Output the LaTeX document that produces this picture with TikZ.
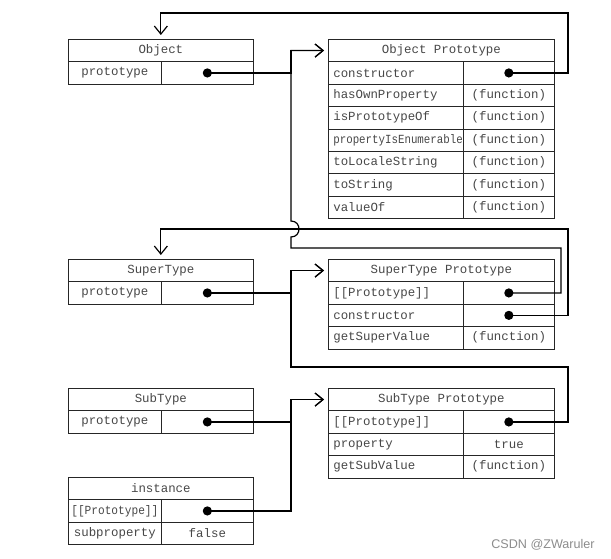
\documentclass[tikz,border=0pt]{standalone}
\usepackage{fontspec}
\newfontfamily\monofam{Liberation Mono}
\newfontfamily\sansfam{Liberation Sans}
\newcommand\cellfont{\monofam\fontsize{12.4}{14}\selectfont}
\usetikzlibrary{arrows.meta}

\tikzset{
    cell/.style={draw=black!85, line width=0.7pt, minimum height=22.4pt, inner sep=0pt,
        anchor=north west, text=black!72, font=\cellfont},
    lhead/.style={cell, minimum width=185pt},
    lkey/.style={cell, minimum width=93pt},
    lval/.style={cell, minimum width=92pt},
    rhead/.style={cell, minimum width=226pt},
    rkey/.style={cell, minimum width=135pt, text width=125pt, inner xsep=5pt, align=left},
    rval/.style={cell, minimum width=91pt},
    link/.style={line width=1.2pt, ->, shorten >=4pt},
}

\begin{document}
\begin{tikzpicture}[x=1pt,y=-1pt,>={Straight Barb[length=8pt,width=13pt]}]
    \useasboundingbox (0,0) rectangle (611,559);
    %Object
    \node[lhead] (objH) at (68,39) {Object};
    \node[lkey] (objPk) at (68,61.4) {prototype};
    \node[lval] (objPv) at (161,61.4) {};
    %Object Prototype
    \node[rhead] (opH) at (328,39) {Object Prototype};
    \node[rkey] (opCk) at (328,61.4) {constructor};
    \node[rval] (opCv) at (463,61.4) {};
    \node[rkey] (opHk) at (328,83.8) {hasOwnProperty};
    \node[rval] (opHv) at (463,83.8) {(function)};
    \node[rkey] (opIk) at (328,106.2) {isPrototypeOf};
    \node[rval] (opIv) at (463,106.2) {(function)};
    \node[rkey] (opEk) at (328,128.6) {\scalebox{0.87}[1]{propertyIsEnumerable}};
    \node[rval] (opEv) at (463,128.6) {(function)};
    \node[rkey] (opLk) at (328,151) {toLocaleString};
    \node[rval] (opLv) at (463,151) {(function)};
    \node[rkey] (opSk) at (328,173.4) {toString};
    \node[rval] (opSv) at (463,173.4) {(function)};
    \node[rkey] (opVk) at (328,195.8) {valueOf};
    \node[rval] (opVv) at (463,195.8) {(function)};
    %SuperType
    \node[lhead] (supH) at (68,259) {SuperType};
    \node[lkey] (supPk) at (68,281.4) {prototype};
    \node[lval] (supPv) at (161,281.4) {};
    %SuperType Prototype
    \node[rhead] (sopH) at (328,259) {SuperType Prototype};
    \node[rkey] (sopPk) at (328,281.4) {[[Prototype]]};
    \node[rval] (sopPv) at (463,281.4) {};
    \node[rkey] (sopCk) at (328,303.8) {constructor};
    \node[rval] (sopCv) at (463,303.8) {};
    \node[rkey] (sopGk) at (328,326.2) {getSuperValue};
    \node[rval] (sopGv) at (463,326.2) {(function)};
    %SubType
    \node[lhead] (subH) at (68,388) {SubType};
    \node[lkey] (subPk) at (68,410.4) {prototype};
    \node[lval] (subPv) at (161,410.4) {};
    %SubType Prototype
    \node[rhead] (bopH) at (328,388) {SubType Prototype};
    \node[rkey] (bopPk) at (328,410.4) {[[Prototype]]};
    \node[rval] (bopPv) at (463,410.4) {};
    \node[rkey] (bopRk) at (328,432.8) {property};
    \node[rval] (bopRv) at (463,432.8) {true};
    \node[rkey] (bopGk) at (328,455.2) {getSubValue};
    \node[rval] (bopGv) at (463,455.2) {(function)};
    %instance
    \node[lhead] (insH) at (68,477) {instance};
    \node[lkey] (insPk) at (68,499.4) {\scalebox{0.9}[1]{[[Prototype]]}};
    \node[lval] (insPv) at (161,499.4) {};
    \node[lkey] (insSk) at (68,521.8) {subproperty};
    \node[lval] (insSv) at (161,521.8) {false};
    %buses
    \coordinate (busA) at (291,0);
    \coordinate (busB) at (561,0);
    \coordinate (busC) at (568,0);
    \coordinate (up1) at (0,13);
    \coordinate (up2) at (0,229);
    \coordinate (up3) at (0,248);
    \coordinate (up4) at (0,367);
    %links
    \draw[link] (objPv.center) -| (busA |- opH.west) -- (opH.west);
    \draw[link] (opCv.center) -| (busC |- up1) -| (objH.north);
    \draw[link] (sopPv.center) -| (busB |- up3) -- (busA |- up3) -- ++(0,-11)
        .. controls +(10.7,0) and +(10.7,0) .. ++(0,-16) -- (busA |- opH.west) -- (opH.west);
    \draw[link] (sopCv.center) -| (busC |- up2) -| (supH.north);
    \draw[link] (supPv.center) -| (busA |- sopH.west) -- (sopH.west);
    \draw[link] (bopPv.center) -| (busC |- up4) -| (busA |- sopH.west) -- (sopH.west);
    \draw[link] (subPv.center) -| (busA |- bopH.west) -- (bopH.west);
    \draw[link] (insPv.center) -| (busA |- bopH.west) -- (bopH.west);
    %dots
    \fill (objPv.center) circle (4.6);
    \fill (opCv.center) circle (4.6);
    \fill (supPv.center) circle (4.6);
    \fill (sopPv.center) circle (4.6);
    \fill (sopCv.center) circle (4.6);
    \fill (subPv.center) circle (4.6);
    \fill (bopPv.center) circle (4.6);
    \fill (insPv.center) circle (4.6);
    \node[font=\sansfam\fontsize{12.6}{14}\selectfont, text=black!45] (wmark) at (543,545) {CSDN @ZWaruler};
\end{tikzpicture}
\end{document}
